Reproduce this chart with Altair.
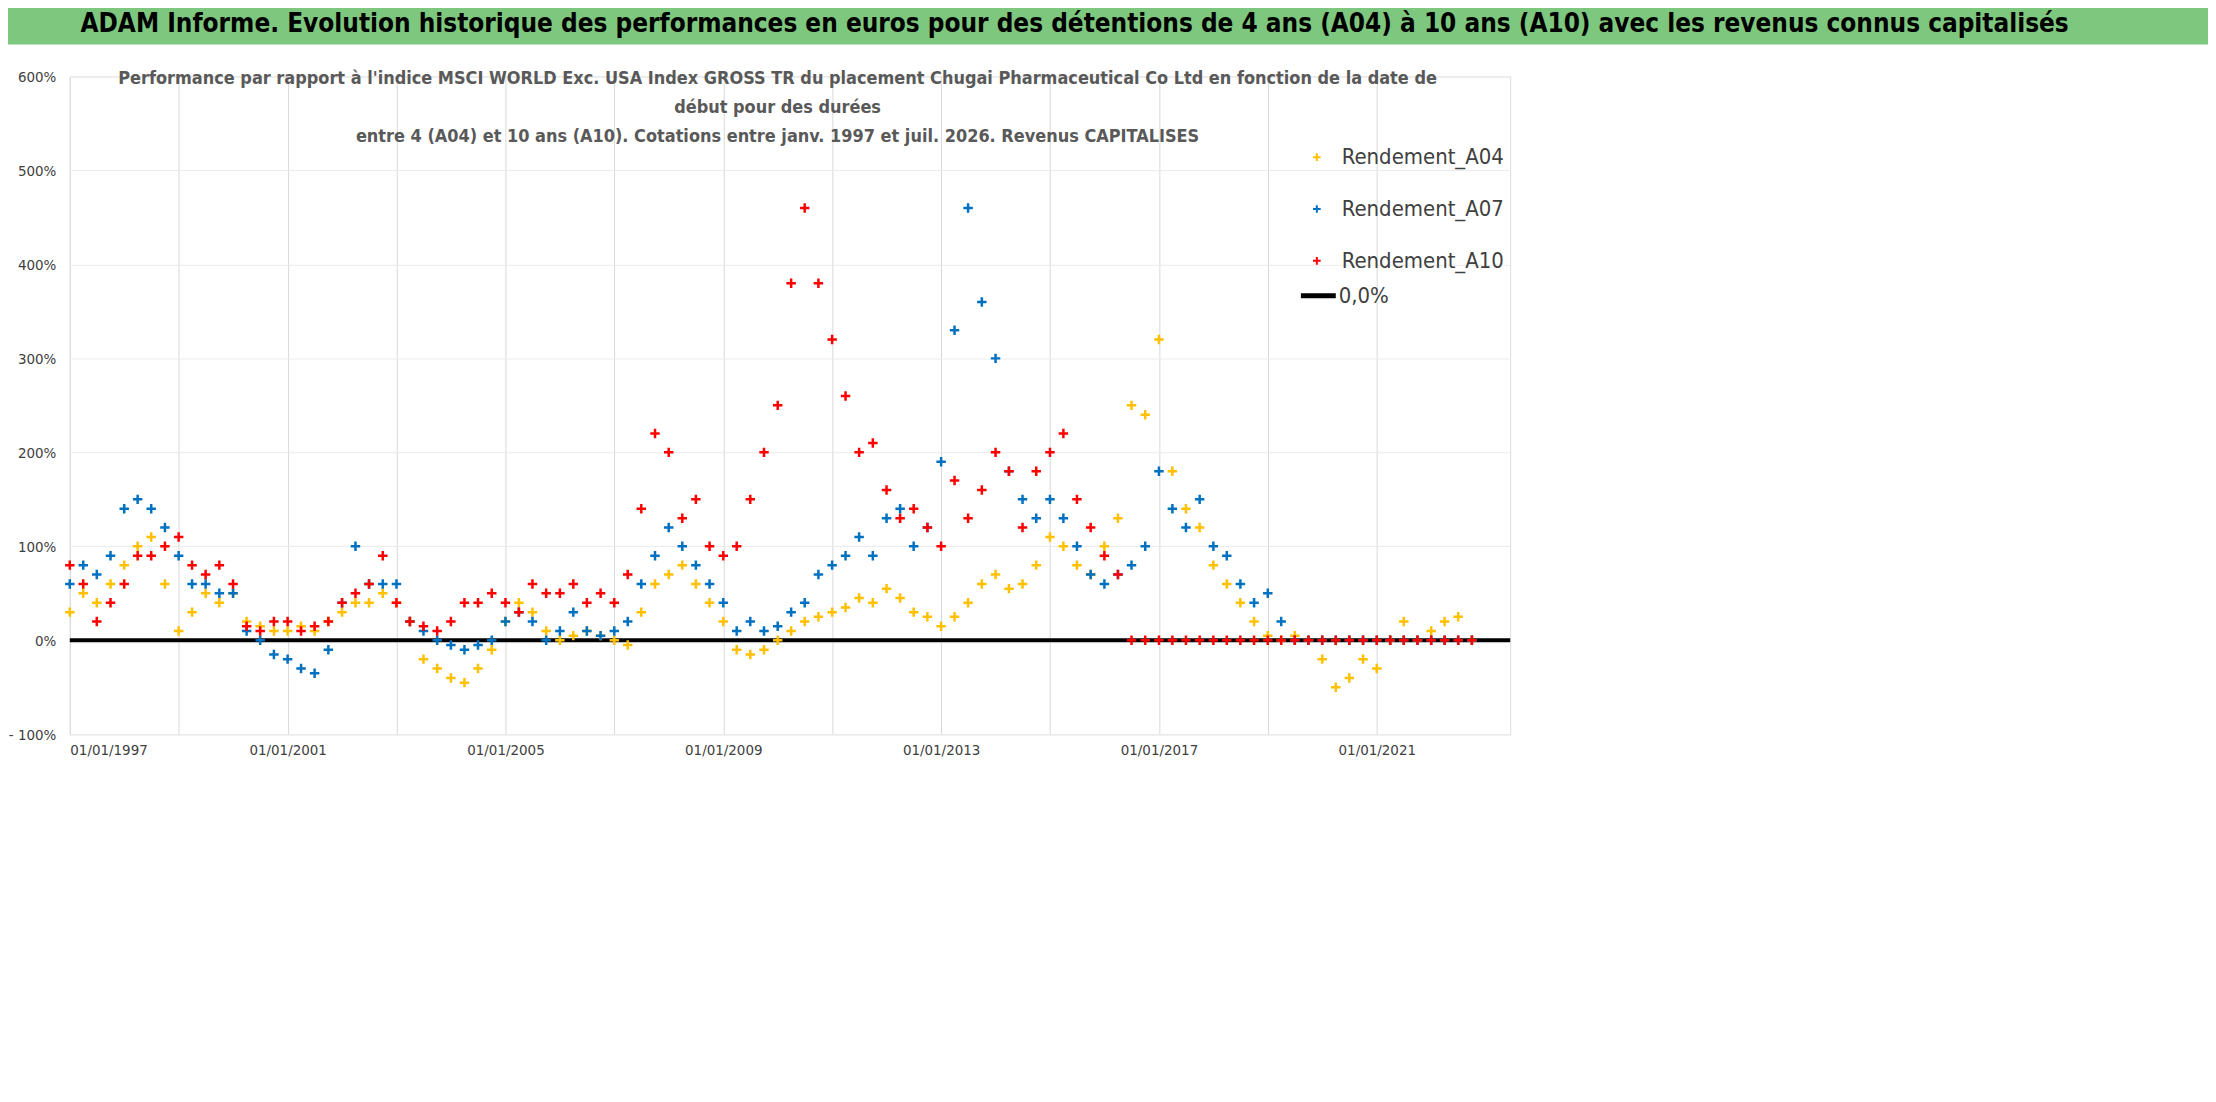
import altair as alt
import pandas as pd

start = "1997-01-01"
A04 = [30,50,40,60, 80,100,110,60, 10,30,50,40, 50,20,15,10, 10,15,10,20, 30,40,40,50,
       40,20,-20,-30, -40,-45,-30,-10, 20,40,30,10, 0,5,10,5, 0,-5,30,60, 70,80,60,40,
       20,-10,-15,-10, 0,10,20,25, 30,35,45,40, 55,45,30,25, 15,25,40,60, 70,55,60,80,
       110,100,80,70, 100,130,250,240, 320,180,140,120, 80,60,40,20, 5,0,5,0,
       -20,-50,-40,-20, -30,0,20,0, 10,20,25,0]
A07 = [60,80,70,90, 140,150,140,120, 90,60,60,50, 50,10,0,-15, -20,-30,-35,-10, 40,100,60,60,
       60,20,10,0, -5,-10,-5,0, 20,30,20,0, 10,30,10,5, 10,20,60,90, 120,100,80,60,
       40,10,20,10, 15,30,40,70, 80,90,110,90, 130,140,100,120, 190,330,460,360, 300,180,150,130,
       150,130,100,70, 60,70,80,100, 180,140,120,150, 100,90,60,40, 50,20,0,0,
       0,0,0,0, 0,0,0,0, 0,0,0,0]
A10 = [80,60,20,40, 60,90,90,100, 110,80,70,80, 60,15,10,20, 20,10,15,20, 40,50,60,90,
       40,20,15,10, 20,40,40,50, 40,30,60,50, 50,60,40,50, 40,70,140,220, 200,130,150,100,
       90,100,150,200, 250,380,460,380, 320,260,200,210, 160,130,140,120, 100,170,130,160, 200,180,120,180,
       200,220,150,120, 90,70,0,0, 0,0,0,0, 0,0,0,0, 0,0,0,0,
       0,0,0,0, 0,0,0,0, 0,0,0,0]
names = ["Rendement_A04", "Rendement_A07", "Rendement_A10"]
colors = ["#FFC000", "#0070C0", "#FF0000"]

dates = pd.date_range(start, periods=len(A04), freq="QS")
rows = []
for n, s in zip(names, [A04, A07, A10]):
    for d, v in zip(dates, s):
        rows.append({"date": d, "serie": n, "val": v / 100})
df = pd.DataFrame(rows)

FONT = "Liberation Sans Narrow, DejaVu Sans Condensed, sans-serif"
W, H = 1445, 660
cross = "M-1,0H1M0,-1V1"

xs = alt.X("date:T", scale=alt.Scale(domain=["1997-01-01", "2023-06-15"]),
           axis=alt.Axis(format="%d/%m/%Y", values=[f"{y}-01-01" for y in range(1997, 2023, 2)],
                         labelFont=FONT, labelFontSize=15, labelColor="#404040", title=None,
                         grid=True, gridColor="#D9D9D9", domain=False, ticks=False, labelPadding=8))
ys = alt.Y("val:Q", scale=alt.Scale(domain=[-1, 6], nice=False),
           axis=alt.Axis(values=[-1,0,1,2,3,4,5,6], labelExpr="datum.value<0 ? '- ' + format(-datum.value*100,'d') + '%' : format(datum.value*100,'d') + '%'",
                         labelFont=FONT, labelFontSize=15, labelColor="#404040", title=None,
                         grid=True, gridColor="#EBEBEB", domain=False, ticks=False, labelPadding=14))

zero = alt.Chart(pd.DataFrame({"val": [0.0]})).mark_rule(color="black", strokeWidth=4).encode(y=alt.Y("val:Q"))

pts = alt.Chart(df).mark_point(shape=cross, filled=False, strokeWidth=2.5, size=90, opacity=1).encode(
    x=xs, y=ys,
    color=alt.Color("serie:N", scale=alt.Scale(domain=names, range=colors),
                    legend=alt.Legend(orient="none", legendX=1240, legendY=70, title=None,
                                      labelFont=FONT, labelFontSize=22, labelColor="#404040", labelLimit=0,
                                      symbolType=cross, symbolSize=60, symbolStrokeWidth=2,
                                      rowPadding=30, labelOffset=14)))

bg = pd.DataFrame({"a": [0]})
titlebar = alt.Chart(bg).mark_rect(color="#7DC87E").encode(
    x=alt.value(-70), x2=alt.value(2216-70), y=alt.value(-75), y2=alt.value(-32))
titletext = alt.Chart(bg).mark_text(font=FONT, fontSize=26, fontWeight="bold", color="black").encode(
    x=alt.value(1078-70), y=alt.value(-53), text=alt.value(
        "ADAM Informe. Evolution historique des performances en euros pour des détentions de 4 ans (A04) à 10 ans (A10) avec les revenus connus capitalisés"))
sub = alt.Chart(bg).mark_text(font=FONT, fontSize=18, fontWeight="bold", color="#595959", lineHeight=29).encode(
    x=alt.value(780-70), y=alt.value(3), text=alt.value([
        "Performance par rapport à l'indice MSCI WORLD Exc. USA Index GROSS TR  du placement Chugai Pharmaceutical Co Ltd en fonction de la date de",
        "début pour des durées",
        "entre 4 (A04) et 10 ans (A10). Cotations entre janv. 1997 et juil. 2026. Revenus CAPITALISES"]))
legline = alt.Chart(bg).mark_rule(color="black", strokeWidth=5).encode(
    x=alt.value(1305-70), x2=alt.value(1340-70), y=alt.value(295-75))
legtext = alt.Chart(bg).mark_text(font=FONT, fontSize=22, color="#404040", align="left").encode(
    x=alt.value(1343-70), y=alt.value(295-75), text=alt.value("0,0%"))

chart = alt.layer(titlebar, titletext, zero, pts, sub, legline, legtext).properties(
    width=W, height=H, autosize=alt.AutoSizeParams(type="none"),
    padding={"left": 62, "top": 67, "right": 700, "bottom": 300}
).configure_view(stroke=None).configure(background="white")

chart.save("out.html", embed_options={"renderer": "svg", "actions": False})
